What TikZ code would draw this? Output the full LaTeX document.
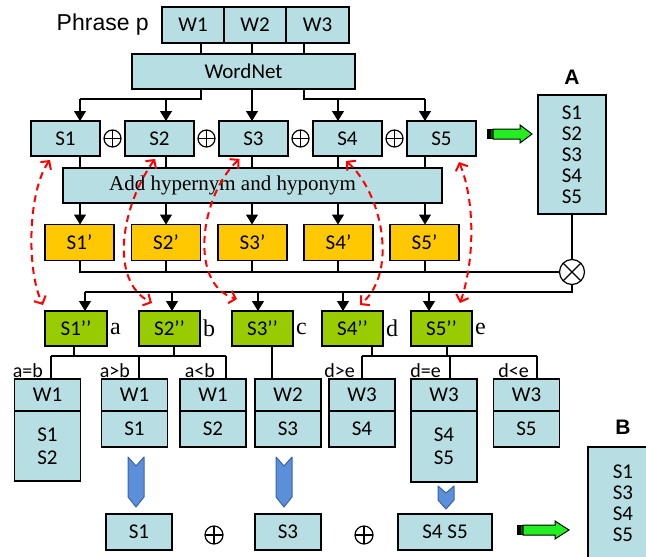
\documentclass[tikz,border=0pt]{standalone}
\usepackage{fontspec}
\usetikzlibrary{arrows.meta,positioning,calc}
\setmainfont{Carlito}
\newfontfamily\arialfont{Liberation Sans}
\newfontfamily\timesfont{Liberation Serif}
\definecolor{cellbg}{HTML}{B7DEE2}
\definecolor{senseyellow}{HTML}{FFC800}
\definecolor{sensegreen}{HTML}{99CC00}
\definecolor{arrowgreen}{HTML}{22EE22}
\definecolor{tailgreen}{HTML}{006600}
\definecolor{chevblue}{HTML}{5B8FD9}
\definecolor{chevline}{HTML}{3A64A8}

\begin{document}
\begin{tikzpicture}[x=1pt, y=-1pt,
  cell/.style={draw, line width=1.5pt, fill=cellbg, outer sep=0pt, inner sep=1pt,
    font=\fontsize{21}{21}\selectfont, minimum width=69pt, minimum height=35pt},
  ycell/.style={cell, fill=senseyellow, minimum height=36pt},
  gcell/.style={cell, fill=sensegreen, minimum width=61pt},
  wcell/.style={cell, minimum width=66pt, minimum height=32pt},
  scell/.style={cell, minimum width=66pt, minimum height=36pt, align=center,
    font=\fontsize{21}{23}\selectfont},
  wire/.style={line width=1.2pt},
  arr/.style={wire, -{Triangle[length=10pt,width=12pt]}},
  cond/.style={font=\fontsize{20}{20}\selectfont, inner sep=0pt, anchor=east},
  letter/.style={font=\timesfont\fontsize{24}{24}\selectfont, inner sep=1pt},
  title/.style={font=\arialfont\bfseries\fontsize{21}{21}\selectfont, inner sep=2pt},
  oplus/.style={circle, draw, line width=1.2pt, minimum size=17pt, inner sep=0pt,
    path picture={\draw[line width=1.2pt]
      (path picture bounding box.north) -- (path picture bounding box.south)
      (path picture bounding box.west) -- (path picture bounding box.east);}},
  otimes/.style={circle, draw, fill=white, line width=1.2pt, minimum size=25pt, inner sep=0pt,
    path picture={\draw[line width=1.2pt]
      (path picture bounding box.north west) -- (path picture bounding box.south east)
      (path picture bounding box.north east) -- (path picture bounding box.south west);}},
  sense/.style={red, line width=2pt, dash pattern=on 7pt off 5pt,
    {Straight Barb[length=6pt,width=13pt]}-{Straight Barb[length=6pt,width=13pt]}},
  chev/.style={draw=chevline, fill=chevblue, line width=1pt, line join=round},
  greenarrow/.style={draw, line width=1pt, fill=arrowgreen}
]
  \useasboundingbox (0,0) rectangle (646,557);

  % phrase and WordNet
  \node[cell, minimum width=62pt, minimum height=36pt] (w1) at (193,25) {W1};
  \node[cell, minimum width=62pt, minimum height=36pt, right=0pt of w1] (w2) {W2};
  \node[cell, minimum width=63pt, minimum height=36pt, right=0pt of w2] (w3) {W3};
  \node[left=11pt of w1, font=\arialfont\fontsize{23}{23}\selectfont, inner sep=2pt] (phrase) {Phrase p};
  \node[cell, minimum width=223pt] (wn) at (243.5,71.5) {WordNet};

  % senses
  \node[cell] (s1) at (65.5,138.5) {S1};
  \node[cell, right=25pt of s1] (s2) {S2};
  \node[cell, right=25pt of s2] (s3) {S3};
  \node[cell, right=25pt of s3] (s4) {S4};
  \node[cell, right=25pt of s4] (s5) {S5};
  \node[oplus] (p1) at ($(s1.east)!0.5!(s2.west)$) {};
  \node[oplus] (p2) at ($(s2.east)!0.5!(s3.west)$) {};
  \node[oplus] (p3) at ($(s3.east)!0.5!(s4.west)$) {};
  \node[oplus] (p4) at ($(s4.east)!0.5!(s5.west)$) {};

  \node[cell, minimum width=379pt, font=\timesfont\fontsize{21}{21}\selectfont] (add) at (252.5,185.5)
    {Add hypernym and hyponym\hspace*{40pt}};

  \node[ycell] (y1) at (79.5,242.5) {S1’};
  \node[ycell] (y2) at (166,242.5) {S2’};
  \node[ycell] (y3) at (252.5,242.5) {S3’};
  \node[ycell] (y4) at (338.5,242.5) {S4’};
  \node[ycell] (y5) at (424.5,242.5) {S5’};

  \node[cell, minimum width=68pt, minimum height=119pt, align=center] (abox) at (572,154.5)
    {S1\\S2\\S3\\S4\\S5};
  \node[title, above=8.5pt of abox] (alabel) {A};
  \node[otimes] (ot) at (572,272) {};

  \node[gcell, minimum width=62pt] (g1) at (76,328.5) {S1’’};
  \node[gcell] (g2) at (169.5,328.5) {S2’’};
  \node[gcell] (g3) at (262.5,328.5) {S3’’};
  \node[gcell] (g4) at (352.5,328.5) {S4’’};
  \node[gcell] (g5) at (441.5,328.5) {S5’’};
  \node[letter, right=2pt of g1] (la) {a};
  \node[letter, right=2pt of g2] (lb) {b};
  \node[letter, right=2pt of g3] (lc) {c};
  \node[letter, right=2pt of g4] (ld) {d};
  \node[letter, right=2pt of g5] (le) {e};

  % chosen words
  \node[wcell] (lw1) at (47.5,395) {W1};
  \node[scell, minimum height=70pt, below=0pt of lw1] (ls1) {S1\\S2};
  \node[wcell] (lw2) at (134.5,395) {W1};
  \node[scell, below=0pt of lw2] (ls2) {S1};
  \node[wcell] (lw3) at (213,395) {W1};
  \node[scell, below=0pt of lw3] (ls3) {S2};
  \node[wcell] (lw4) at (288,395) {W2};
  \node[scell, below=0pt of lw4] (ls4) {S3};
  \node[wcell] (lw5) at (362,395) {W3};
  \node[scell, below=0pt of lw5] (ls5) {S4};
  \node[wcell] (lw6) at (444,395) {W3};
  \node[scell, minimum height=71pt, below=0pt of lw6] (ls6) {S4\\S5};
  \node[wcell] (lw7) at (526.5,395) {W3};
  \node[scell, below=0pt of lw7] (ls7) {S5};

  \node[cell, minimum width=66pt, minimum height=36pt] (r1) at (139,532) {S1};
  \node[cell, minimum width=66pt, minimum height=36pt] (r3) at (288,532) {S3};
  \node[cell, minimum width=94pt, minimum height=36pt] (r45) at (445,532) {S4 S5};
  \node[oplus, minimum size=18pt] (q1) at (214,535) {};
  \node[oplus, minimum size=18pt] (q2) at (364,535) {};

  \begin{scope}
    \clip (0,0) rectangle (646,557);
    \node[cell, minimum width=70pt, minimum height=112pt, anchor=north west, align=center] (bbox)
      at (588,447) {S1\\S3\\S4\\S5};
  \end{scope}
  \node[title, above=10.5pt of bbox] (blabel) {B};

  % columns and buses
  \coordinate (t1) at (201,0);
  \coordinate (t2) at (252,0);
  \coordinate (t3) at (304,0);
  \coordinate (c1) at (80,0);
  \coordinate (c2) at (166,0);
  \coordinate (c3) at (252,0);
  \coordinate (c4) at (338,0);
  \coordinate (c5) at (425,0);
  \coordinate (d1) at (85,0);
  \coordinate (d2) at (172,0);
  \coordinate (d3) at (258,0);
  \coordinate (d4) at (343,0);
  \coordinate (d5) at (429,0);
  \coordinate (wl) at (201,99);
  \coordinate (wr) at (304,99);
  \coordinate (gb) at (572,292);

  \draw[wire] (t1 |- w1.south) -- (t1 |- wn.north);
  \draw[wire] (t2 |- w2.south) -- (t2 |- wn.north);
  \draw[wire] (t3 |- w3.south) -- (t3 |- wn.north);
  \draw[wire] (t1 |- wn.south) -- (wl) -- (wl -| c1);
  \draw[wire] (t3 |- wn.south) -- (wr) -- (wr -| c5);
  \draw[arr] (wl -| c1) -- (c1 |- s1.north);
  \draw[arr] (wl -| c2) -- (c2 |- s2.north);
  \draw[arr] (t2 |- wn.south) -- (c3 |- s3.north);
  \draw[arr] (wr -| c4) -- (c4 |- s4.north);
  \draw[arr] (wr -| c5) -- (c5 |- s5.north);

  \draw[wire] (c1 |- s1.south) -- (c1 |- add.north);
  \draw[wire] (c2 |- s2.south) -- (c2 |- add.north);
  \draw[wire] (c3 |- s3.south) -- (c3 |- add.north);
  \draw[wire] (c4 |- s4.south) -- (c4 |- add.north);
  \draw[wire] (c5 |- s5.south) -- (c5 |- add.north);
  \draw[arr] (c1 |- add.south) -- (c1 |- y1.north);
  \draw[arr] (c2 |- add.south) -- (c2 |- y2.north);
  \draw[arr] (c3 |- add.south) -- (c3 |- y3.north);
  \draw[arr] (c4 |- add.south) -- (c4 |- y4.north);
  \draw[arr] (c5 |- add.south) -- (c5 |- y5.north);

  \draw[wire] (c1 |- y1.south) -- (c1 |- ot) -- (ot.west);
  \draw[wire] (c2 |- y2.south) -- (c2 |- ot);
  \draw[wire] (c3 |- y3.south) -- (c3 |- ot);
  \draw[wire] (c4 |- y4.south) -- (c4 |- ot);
  \draw[wire] (c5 |- y5.south) -- (c5 |- ot);
  \draw[wire] (abox.south) -- (ot.north);
  \draw[wire] (ot.south) -- (gb) -- (gb -| d1);
  \draw[arr] (gb -| d1) -- (d1 |- g1.north);
  \draw[arr] (gb -| d2) -- (d2 |- g2.north);
  \draw[arr] (gb -| d3) -- (d3 |- g3.north);
  \draw[arr] (gb -| d4) -- (d4 |- g4.north);
  \draw[arr] (gb -| d5) -- (d5 |- g5.north);

  % comparisons
  \coordinate (e1) at (51,356);
  \coordinate (e2) at (139,356);
  \coordinate (e3) at (226,356);
  \coordinate (e4) at (362,356);
  \coordinate (e5) at (450,356);
  \coordinate (e6) at (537,356);
  \coordinate (k1) at (74,0);
  \coordinate (k2) at (174,0);
  \coordinate (k3) at (272,0);
  \coordinate (k4) at (372,0);
  \coordinate (k5) at (447,0);
  \draw[wire] (k1 |- g1.south) -- (k1 |- e1);
  \draw[wire] (k2 |- g2.south) -- (k2 |- e1);
  \draw[wire] (e1) -- (e3);
  \draw[wire] (e1) -- (e1 |- lw1.north);
  \draw[wire] (e2) -- (e2 |- lw2.north);
  \draw[wire] (e3) -- (e3 |- lw3.north);
  \draw[wire] (k3 |- g3.south) -- (k3 |- lw4.north);
  \draw[wire] (k4 |- g4.south) -- (k4 |- e4);
  \draw[wire] (k5 |- g5.south) -- (k5 |- e4);
  \draw[wire] (e4) -- (e6);
  \draw[wire] (e4) -- (e4 |- lw5.north);
  \draw[wire] (e5) -- (e5 |- lw6.north);
  \draw[wire] (e6) -- (e6 |- lw7.north);
  \node[cond] at ($(e1)+(-8,15)$) {a=b};
  \node[cond] at ($(e2)+(-9,15)$) {a>b};
  \node[cond] at ($(e3)+(-11,15)$) {a<b};
  \node[cond] at ($(e4)+(-7,15)$) {d>e};
  \node[cond] at ($(e5)+(-9,15)$) {d=e};
  \node[cond] at ($(e6)+(-8,15)$) {d<e};

  % blue chevrons
  \draw[chev] (128,457) -- (136,466) -- (144,457) -- (144,497) -- (136,507) -- (128,497) -- cycle;
  \draw[chev] (276,457) -- (284,466) -- (292,457) -- (292,497) -- (284,507) -- (276,497) -- cycle;
  \draw[chev] (438,486) -- (446,493) -- (454,486) -- (454,500) -- (446,509) -- (438,500) -- cycle;

  % green arrows
  \coordinate (ga) at (487,134);
  \coordinate (gz) at (517,530);
  \fill (ga) ++(0,-5) rectangle ++(6,10);
  \fill[tailgreen] (ga) ++(3.5,-4) rectangle ++(2,8);
  \draw[greenarrow] (ga) ++(6,-5) -- ++(27,0) -- ++(0,-4) -- ++(12,9) -- ++(-12,9) -- ++(0,-4) -- ++(-27,0) -- cycle;
  \fill (gz) ++(0,-5) rectangle ++(6,10);
  \fill[tailgreen] (gz) ++(3.5,-4) rectangle ++(2,8);
  \draw[greenarrow] (gz) ++(6,-5) -- ++(32,0) -- ++(0,-4) -- ++(14,9) -- ++(-14,9) -- ++(0,-4) -- ++(-32,0) -- cycle;

  % sense links
  \draw[sense] ($(s1.south)+(-15.5,4)$) .. controls (28,190) and (26,270) .. ($(g1.north west)+(-2,-6)$);
  \draw[sense] ($(s2.south)+(-4.5,3)$) .. controls (122,205) and (108,280) .. ($(g2.north west)+(13,-8)$);
  \draw[sense] ($(s3.south)+(-14,3)$) .. controls (200,195) and (188,285) .. ($(g3.north west)+(5,-12)$);
  \draw[sense] ($(s4.south)+(-1.5,5)$) .. controls (380,190) and (400,270) .. ($(g4.north)+(7.5,-6)$);
  \draw[sense] ($(s5.south east)+(-17,6)$) .. controls (475,200) and (475,260) .. ($(g5.north east)+(-12,-8)$);
\end{tikzpicture}
\end{document}
